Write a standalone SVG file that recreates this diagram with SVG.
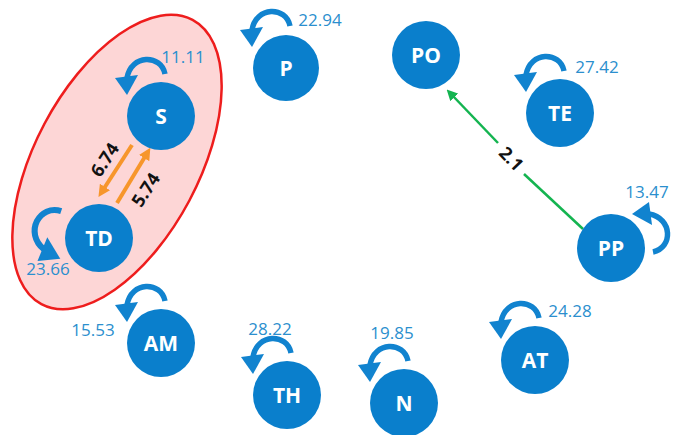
<svg xmlns="http://www.w3.org/2000/svg" xmlns:xlink="http://www.w3.org/1999/xlink" width="681" height="435" viewBox="0 0 681 435">
  <style>
    .node circle { fill: #0a7fcc; }
    .node text.name { fill: #ffffff; font-family: "Open Sans", "Liberation Sans", sans-serif; font-weight: bold; font-size: 21px; text-anchor: middle; }
    .loop-arc { fill: none; stroke: #1183cf; stroke-width: 5.5; }
    .loop-head { fill: #1183cf; }
    .node text.weight { fill: #2b8fce; font-family: "Open Sans", "Liberation Sans", sans-serif; font-size: 17px; text-anchor: middle; }
    .elabel { fill: #111111; font-family: "Open Sans", "Liberation Sans", sans-serif; font-weight: bold; font-size: 18px; text-anchor: middle; }
    .orange { stroke: #f7962b; stroke-width: 4; fill: none; }
    .green { stroke: #14b450; stroke-width: 2.5; fill: none; }
  </style>
  <defs>
    <!-- self-loop arrow drawn above-left of a node centred at the origin -->
    <g id="loop">
      <path class="loop-arc" d="M 4,-42 C 0,-62 -30,-62 -34,-38"/>
      <polygon class="loop-head" points="-46,-38 -23,-41 -34,-21"/>
    </g>
    <marker id="head-orange" viewBox="0 0 10 10" refX="3" refY="5" markerWidth="12" markerHeight="12" markerUnits="userSpaceOnUse" orient="auto">
      <path d="M0,0 L10,5 L0,10 z" fill="#f7962b"/>
    </marker>
    <marker id="head-green" viewBox="0 0 10 10" refX="3" refY="5" markerWidth="11" markerHeight="11" markerUnits="userSpaceOnUse" orient="auto">
      <path d="M0,0 L10,5 L0,10 z" fill="#14b450"/>
    </marker>
  </defs>

  <rect width="681" height="435" fill="#ffffff"/>

  <!-- cluster outline around S and TD -->
  <ellipse cx="117" cy="162" rx="82" ry="161" transform="rotate(28 117 162)" fill="#fdd6d6" stroke="#ee1d1d" stroke-width="2.5"/>

  <!-- connectors -->
  <g id="connectors">
    <line class="orange" x1="132" y1="145" x2="103" y2="190" marker-end="url(#head-orange)"/>
    <line class="orange" x1="117" y1="203" x2="146" y2="155" marker-end="url(#head-orange)"/>
    <text class="elabel" transform="translate(105 160) rotate(-57)" y="6">6.74</text>
    <text class="elabel" transform="translate(146 190) rotate(-57)" y="6">5.74</text>
    <line class="green" x1="583" y1="229" x2="524" y2="174"/>
    <line class="green" x1="498" y1="143" x2="452" y2="95" marker-end="url(#head-green)"/>
    <text class="elabel" transform="translate(511 159) rotate(46)" y="6">2.1</text>
  </g>

  <!-- nodes -->
  <g id="node-S" class="node">
    <use xlink:href="#loop" transform="translate(161 116)"/>
    <circle cx="161" cy="116" r="34"/>
    <text class="name" x="161" y="124">S</text>
    <text class="weight" x="183" y="63">11.11</text>
  </g>
  <g id="node-TD" class="node">
    <use xlink:href="#loop" transform="translate(99 238) rotate(-60) scale(1.1)"/>
    <circle cx="99" cy="238" r="34"/>
    <text class="name" x="99" y="246">TD</text>
    <text class="weight" x="48" y="275">23.66</text>
  </g>
  <g id="node-P" class="node">
    <use xlink:href="#loop" transform="translate(286 68)"/>
    <circle cx="286" cy="68" r="33"/>
    <text class="name" x="286" y="76">P</text>
    <text class="weight" x="320" y="26">22.94</text>
  </g>
  <g id="node-PO" class="node">
    <circle cx="426" cy="55" r="34"/>
    <text class="name" x="426" y="63">PO</text>
  </g>
  <g id="node-TE" class="node">
    <use xlink:href="#loop" transform="translate(560 113)"/>
    <circle cx="560" cy="113" r="34"/>
    <text class="name" x="560" y="121">TE</text>
    <text class="weight" x="597" y="73">27.42</text>
  </g>
  <g id="node-PP" class="node">
    <use xlink:href="#loop" transform="translate(611 248) rotate(90)"/>
    <circle cx="611" cy="248" r="34"/>
    <text class="name" x="611" y="256">PP</text>
    <text class="weight" x="647" y="198">13.47</text>
  </g>
  <g id="node-AT" class="node">
    <use xlink:href="#loop" transform="translate(535 360)"/>
    <circle cx="535" cy="360" r="34"/>
    <text class="name" x="535" y="368">AT</text>
    <text class="weight" x="570" y="317">24.28</text>
  </g>
  <g id="node-N" class="node">
    <use xlink:href="#loop" transform="translate(404 403)"/>
    <circle cx="404" cy="403" r="34"/>
    <text class="name" x="404" y="411">N</text>
    <text class="weight" x="392" y="339">19.85</text>
  </g>
  <g id="node-TH" class="node">
    <use xlink:href="#loop" transform="translate(287 395)"/>
    <circle cx="287" cy="395" r="34"/>
    <text class="name" x="287" y="403">TH</text>
    <text class="weight" x="270" y="335">28.22</text>
  </g>
  <g id="node-AM" class="node">
    <use xlink:href="#loop" transform="translate(161 343)"/>
    <circle cx="161" cy="343" r="34"/>
    <text class="name" x="161" y="351">AM</text>
    <text class="weight" x="93" y="336">15.53</text>
  </g>
</svg>
